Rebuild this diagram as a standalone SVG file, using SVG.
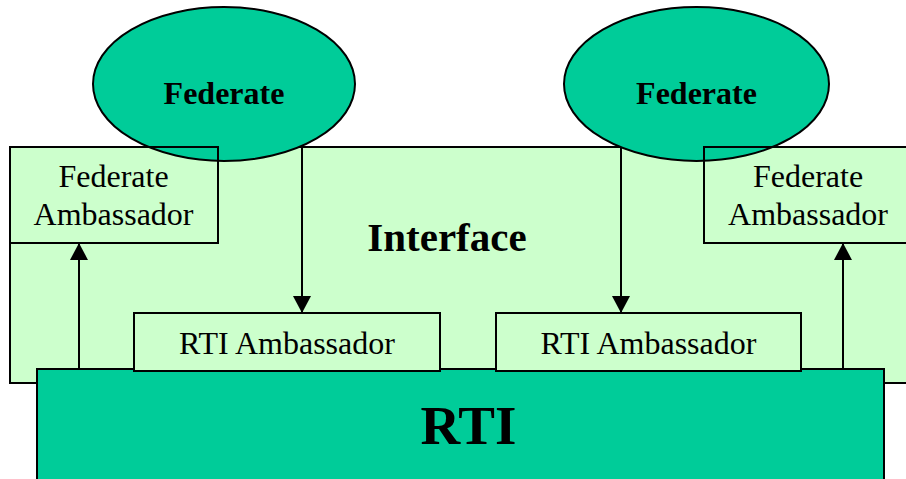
<svg xmlns="http://www.w3.org/2000/svg" width="906" height="479" viewBox="0 0 906 479">
<style>
  .light { fill: #CCFFCC; stroke: #000; stroke-width: 2; }
  .dark { fill: #00CC99; stroke: #000; stroke-width: 2; }
  .outline { fill: none; stroke: #000; stroke-width: 2; }
  .t { font-family: "Liberation Serif", "Times New Roman", serif; fill: #000; text-anchor: middle; }
  .reg { font-size: 32px; }
  .bold { font-weight: bold; }
  .conn { stroke: #000; stroke-width: 2; fill: none; marker-end: url(#arr); }
</style>
<defs>
  <marker id="arr" markerUnits="userSpaceOnUse" markerWidth="20" markerHeight="20" refX="17" refY="9" orient="auto">
    <path d="M0,0 L17,9 L0,18 Z" fill="#000"/>
  </marker>
</defs>
<rect width="906" height="479" fill="#fff"/>
<g id="interface">
  <rect class="light" x="10" y="147" width="906" height="236"/>
  <text class="t bold" x="447" y="251" font-size="41">Interface</text>
</g>
<g id="rti">
  <rect class="dark" x="37" y="369" width="847" height="120"/>
  <text class="t bold" x="468.5" y="444" font-size="55">RTI</text>
</g>
<g id="federate-left">
  <ellipse class="dark" cx="224" cy="84" rx="131" ry="77" stroke-width="1.5"/>
  <text class="t bold reg" x="224" y="104">Federate</text>
</g>
<g id="federate-right">
  <ellipse class="dark" cx="696.5" cy="84" rx="132.5" ry="77" stroke-width="1.5"/>
  <text class="t bold reg" x="696.5" y="104">Federate</text>
</g>
<g id="fedamb-left">
  <rect class="outline" x="10" y="147" width="208" height="96"/>
  <text class="t reg" x="113.5" y="187">Federate</text>
  <text class="t reg" x="113.5" y="225">Ambassador</text>
</g>
<g id="fedamb-right">
  <rect class="outline" x="704" y="147" width="210" height="96"/>
  <text class="t reg" x="808" y="187">Federate</text>
  <text class="t reg" x="808" y="225">Ambassador</text>
</g>
<g id="rtiamb-left">
  <rect class="light" x="134" y="313" width="306" height="58"/>
  <text class="t reg" x="287" y="354">RTI Ambassador</text>
</g>
<g id="rtiamb-right">
  <rect class="light" x="496" y="313" width="305" height="58"/>
  <text class="t reg" x="648.5" y="354">RTI Ambassador</text>
</g>
<g id="connectors">
  <line class="conn" x1="302" y1="147" x2="302" y2="313"/>
  <line class="conn" x1="621" y1="147" x2="621" y2="313"/>
  <line class="conn" x1="79" y1="369" x2="79" y2="243"/>
  <line class="conn" x1="843" y1="369" x2="843" y2="243"/>
</g>
</svg>
